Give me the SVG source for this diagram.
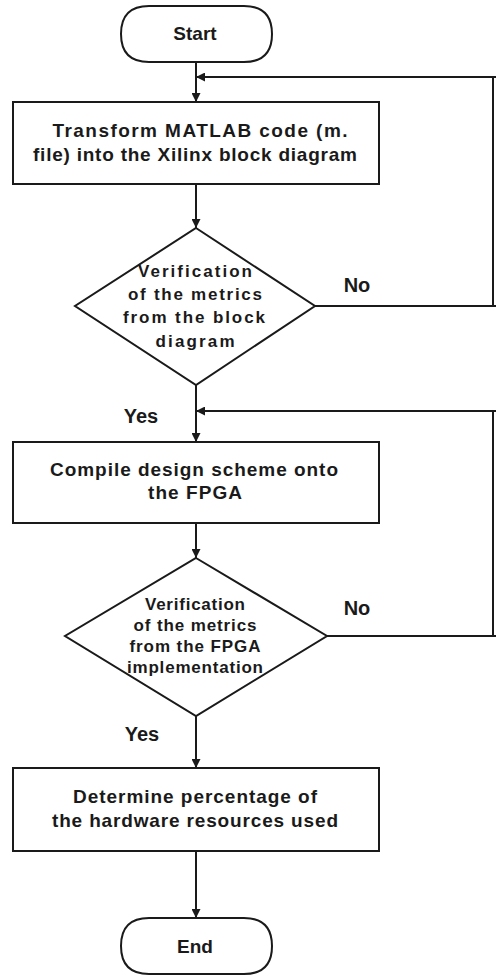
<svg xmlns="http://www.w3.org/2000/svg" width="496" height="976" viewBox="0 0 496 976">
<defs>
<style>
.shape{fill:#fff;stroke:#1a1a1a;stroke-width:2}
.line{fill:none;stroke:#1a1a1a;stroke-width:2}
text{font-family:"Liberation Sans",Arial,sans-serif;font-weight:bold;fill:#1a1a1a}
.t{font-size:19px}
.l{font-size:20px}
.d{font-size:17px}
</style>
<marker id="arr" viewBox="0 0 10 10" refX="10" refY="5" markerWidth="10" markerHeight="9" markerUnits="userSpaceOnUse" orient="auto">
<path d="M0,0 L10,5 L0,10 z" fill="#1a1a1a"/>
</marker>
</defs>
<rect width="496" height="976" fill="#fff"/>
<g id="connectors">
<line class="line" x1="196" y1="62" x2="196" y2="102" marker-end="url(#arr)"/>
<polyline class="line" points="496,77 493,77 196,77" marker-end="url(#arr)"/>
<line class="line" x1="493" y1="77" x2="493" y2="306"/>
<line class="line" x1="196" y1="184" x2="196" y2="228" marker-end="url(#arr)"/>
<line class="line" x1="315" y1="306" x2="496" y2="306"/>
<line class="line" x1="196" y1="385" x2="196" y2="442" marker-end="url(#arr)"/>
<line class="line" x1="496" y1="411" x2="196" y2="411" marker-end="url(#arr)"/>
<line class="line" x1="493" y1="411" x2="493" y2="636"/>
<line class="line" x1="196" y1="523" x2="196" y2="558" marker-end="url(#arr)"/>
<line class="line" x1="327" y1="636" x2="496" y2="636"/>
<line class="line" x1="196" y1="716" x2="196" y2="768" marker-end="url(#arr)"/>
<line class="line" x1="196" y1="851" x2="196" y2="918" marker-end="url(#arr)"/>
<text class="l" x="357" y="292" text-anchor="middle">No</text>
<text class="l" x="141" y="423" text-anchor="middle">Yes</text>
<text class="l" x="357" y="615" text-anchor="middle">No</text>
<text class="l" x="142" y="741" text-anchor="middle">Yes</text>
</g>
<g id="start">
<path class="shape" d="M149,6 H244 Q272,6 272,34 Q272,62 244,62 H149 Q121,62 121,34 Q121,6 149,6 Z"/>
<text class="t" x="195" y="40" text-anchor="middle">Start</text>
</g>
<g id="transform">
<rect class="shape" x="13" y="102" width="366" height="82"/>
<text class="t" x="200" y="137" text-anchor="middle" textLength="295" lengthAdjust="spacing">Transform MATLAB code (m.</text>
<text class="t" x="195" y="161" text-anchor="middle" textLength="324" lengthAdjust="spacing">file) into the Xilinx block diagram</text>
</g>
<g id="verify1">
<polygon class="shape" points="196,228 315,306 196,385 75,306"/>
<text class="d" x="195" y="277" text-anchor="middle" textLength="114" lengthAdjust="spacing">Verification</text>
<text class="d" x="195" y="300" text-anchor="middle" textLength="134" lengthAdjust="spacing">of the metrics</text>
<text class="d" x="194" y="323" text-anchor="middle" textLength="142" lengthAdjust="spacing">from the block</text>
<text class="d" x="195" y="347" text-anchor="middle" textLength="79" lengthAdjust="spacing">diagram</text>
</g>
<g id="compile">
<rect class="shape" x="13" y="442" width="366" height="81"/>
<text class="t" x="194" y="476" text-anchor="middle" textLength="288" lengthAdjust="spacing">Compile design scheme onto</text>
<text class="t" x="195" y="499" text-anchor="middle" textLength="94" lengthAdjust="spacing">the FPGA</text>
</g>
<g id="verify2">
<polygon class="shape" points="196,558 327,636 196,716 65,636"/>
<text class="d" x="195" y="610" text-anchor="middle" textLength="100" lengthAdjust="spacing">Verification</text>
<text class="d" x="195" y="631" text-anchor="middle" textLength="123" lengthAdjust="spacing">of the metrics</text>
<text class="d" x="195" y="652" text-anchor="middle" textLength="131" lengthAdjust="spacing">from the FPGA</text>
<text class="d" x="195" y="673" text-anchor="middle" textLength="136" lengthAdjust="spacing">implementation</text>
</g>
<g id="determine">
<rect class="shape" x="13" y="768" width="366" height="83"/>
<text class="t" x="195" y="803" text-anchor="middle" textLength="244" lengthAdjust="spacing">Determine percentage of</text>
<text class="t" x="195" y="827" text-anchor="middle" textLength="286" lengthAdjust="spacing">the hardware resources used</text>
</g>
<g id="end">
<path class="shape" d="M149,918 H244 Q272,918 272,946 Q272,974 244,974 H149 Q121,974 121,946 Q121,918 149,918 Z"/>
<text class="t" x="195" y="953" text-anchor="middle">End</text>
</g>
</svg>
